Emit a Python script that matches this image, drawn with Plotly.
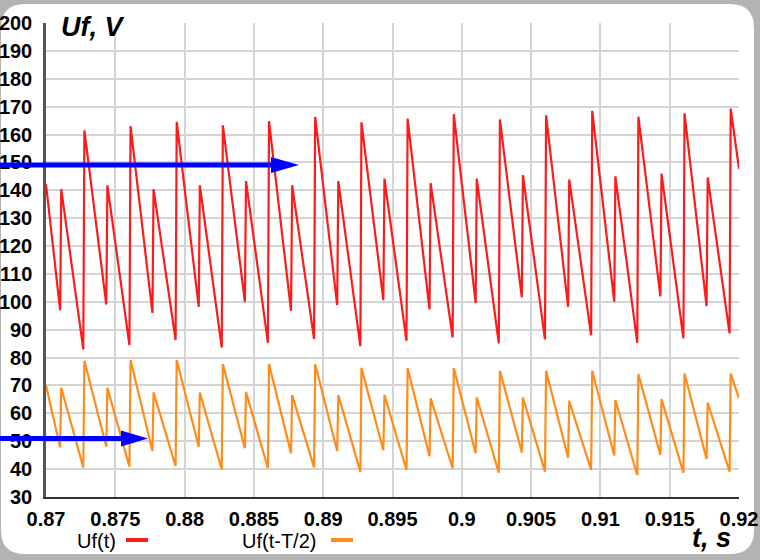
import plotly.graph_objects as go

# ---------------- data ----------------
t_jump = [0.87106, 0.87273, 0.87439, 0.87606, 0.87772, 0.87939, 0.88106, 0.88272,
          0.88439, 0.88605, 0.88772, 0.88938, 0.89105, 0.89272, 0.89438, 0.89605,
          0.89771, 0.89938, 0.90104, 0.90271, 0.90437, 0.90604, 0.90771, 0.90937,
          0.91104, 0.91270, 0.91437, 0.91603, 0.91770, 0.91936]

red_start, red_end = 142.2, 147.7
red_min = [97, 83, 99, 84.5, 96, 86.3, 98.2, 83.6, 100, 85.3,
           96.8, 86.7, 98.8, 84.1, 100.6, 86, 97.3, 87.2, 99.6, 85.1,
           101.6, 86.5, 98.2, 88, 100, 85.3, 102, 86.9, 98.5, 88.7]
red_peak = [140.4, 161.5, 141.8, 163, 140.4, 164.5, 141.8, 163.3, 143.3, 164.8,
            141.8, 166.3, 143.3, 164.4, 144.2, 165.7, 142.6, 167.3, 144.2, 165.4,
            145.4, 166.9, 143.9, 168.5, 145, 166.4, 146, 167.6, 144.6, 169.3]

org_start, org_end = 70.1, 65.4
org_min = [47.8, 40.6, 48, 40.9, 46.5, 41.1, 48, 39.9, 47.5, 40.3,
           45.7, 40.6, 46.5, 39.1, 46.8, 39.7, 44.6, 40.3, 45.7, 38.7,
           46, 39.1, 44.1, 39.7, 44.9, 37.9, 45.1, 38.7, 43.6, 39.1]
org_peak = [69.2, 78.9, 69.2, 79.1, 67.5, 79.1, 67.5, 77.7, 67.7, 77.7,
            66.6, 77.7, 66.6, 76.3, 66.6, 76.3, 65.4, 76.3, 65.7, 75.3,
            65.7, 75.3, 64.5, 75.3, 64.8, 74.1, 65.1, 74.3, 63.9, 74.3]

x_tickvals = [0.87, 0.875, 0.88, 0.885, 0.89, 0.895, 0.9, 0.905, 0.91, 0.915, 0.92]
x_ticktext = ["0.87", "0.875", "0.88", "0.885", "0.89", "0.895", "0.9", "0.905", "0.91", "0.915", "0.92"]
y_tickvals = list(range(30, 201, 10))

series_names = ["Uf(t)", "Uf(t-T/2)"]
series_colors = ["#ff1a1a", "#ff8c1a"]
t_range = [0.87, 0.92]
half_jump = 0.00004


def build(start, mins, peaks, end):
    xs, ys = [t_range[0]], [start]
    for t, lo, hi in zip(t_jump, mins, peaks):
        xs += [t - half_jump, t + half_jump]
        ys += [lo, hi]
    xs.append(t_range[1])
    ys.append(end)
    return xs, ys


# ---------------- layout geometry ----------------
W, H = 760, 560
ML, MR, MT, MB = 46, 21, 23, 63
PW, PH = W - ML - MR, H - MT - MB


def fx(px):
    return (px - ML) / PW


def fy(py):
    return (H - MB - py) / PH


fig = go.Figure()
for (s, mn, pk, e), name, col in zip(
        [(red_start, red_min, red_peak, red_end), (org_start, org_min, org_peak, org_end)],
        series_names, series_colors):
    xs, ys = build(s, mn, pk, e)
    fig.add_trace(go.Scatter(x=xs, y=ys, mode="lines", name=name,
                             line=dict(color=col, width=2.2), showlegend=False))

shapes = []
# rounded white panel
x0, x1, y0, y1, r = 1, 754, 4, 554, 24
pts = [
    f"M{fx(x0 + r)},{fy(y0)}", f"L{fx(x1 - r)},{fy(y0)}",
    f"Q{fx(x1)},{fy(y0)} {fx(x1)},{fy(y0 + r)}", f"L{fx(x1)},{fy(y1 - r)}",
    f"Q{fx(x1)},{fy(y1)} {fx(x1 - r)},{fy(y1)}", f"L{fx(x0 + r)},{fy(y1)}",
    f"Q{fx(x0)},{fy(y1)} {fx(x0)},{fy(y1 - r)}", f"L{fx(x0)},{fy(y0 + r)}",
    f"Q{fx(x0)},{fy(y0)} {fx(x0 + r)},{fy(y0)}", "Z"]
shapes.append(dict(type="path", path=" ".join(pts), xref="paper", yref="paper",
                   fillcolor="white", line=dict(width=0), layer="below"))
# white box behind the y title
shapes.append(dict(type="rect", xref="paper", yref="paper", x0=fx(55), x1=fx(163),
                   y0=fy(31), y1=fy(16), fillcolor="white", line=dict(width=0), layer="above"))
# legend dashes
shapes.append(dict(type="line", xref="paper", yref="paper", x0=fx(126), x1=fx(148),
                   y0=fy(540), y1=fy(540), line=dict(color=series_colors[0], width=4), layer="above"))
shapes.append(dict(type="line", xref="paper", yref="paper", x0=fx(331), x1=fx(353),
                   y0=fy(540), y1=fy(540), line=dict(color=series_colors[1], width=4), layer="above"))
# blue arrows
for (ya, head_start, tip, hh) in [(165, 271, 299, 8), (438.5, 121, 148, 8)]:
    shapes.append(dict(type="line", xref="paper", yref="paper", x0=fx(0), x1=fx(head_start + 2),
                       y0=fy(ya), y1=fy(ya), line=dict(color="#0000ff", width=5), layer="above"))
    shapes.append(dict(type="path", xref="paper", yref="paper",
                       path=f"M{fx(head_start)},{fy(ya - hh)} L{fx(tip)},{fy(ya)} L{fx(head_start)},{fy(ya + hh)} Z",
                       fillcolor="#0000ff", line=dict(width=0), layer="above"))

annotations = [
    dict(text="<b><i>Uf, V</i></b>", xref="paper", yref="paper", x=fx(59), y=fy(27),
         xanchor="left", yanchor="middle", showarrow=False,
         font=dict(family="Liberation Sans, Arial", size=27, color="black")),
    dict(text="<b><i>t, s</i></b>", xref="paper", yref="paper", x=fx(711), y=fy(538),
         xanchor="center", yanchor="middle", showarrow=False,
         font=dict(family="Liberation Sans, Arial", size=27, color="black")),
    dict(text=series_names[0], xref="paper", yref="paper", x=fx(75), y=fy(541),
         xanchor="left", yanchor="middle", showarrow=False,
         font=dict(family="Liberation Sans, Arial", size=20, color="black")),
    dict(text=series_names[1], xref="paper", yref="paper", x=fx(240), y=fy(541),
         xanchor="left", yanchor="middle", showarrow=False,
         font=dict(family="Liberation Sans, Arial", size=20, color="black")),
]

tick_font = dict(family="Liberation Sans, Arial", size=20, color="black", weight="bold")

fig.update_layout(
    template="none",
    width=W, height=H,
    margin=dict(l=ML, r=MR, t=MT, b=MB, pad=0, autoexpand=False),
    paper_bgcolor="#b3b3b3",
    plot_bgcolor="rgba(0,0,0,0)",
    shapes=shapes,
    annotations=annotations,
    showlegend=False,
    xaxis=dict(range=t_range, tickvals=x_tickvals, ticktext=x_ticktext, automargin=False,
               showgrid=True, gridcolor="#d4d4d4", gridwidth=1.5, zeroline=False,
               showline=True, linecolor="#333333", linewidth=2, ticks="",
               tickfont=tick_font, ticklabelstandoff=3),
    yaxis=dict(range=[30, 200], tickvals=y_tickvals, automargin=False,
               showgrid=True, gridcolor="#d4d4d4", gridwidth=1.5, zeroline=False,
               showline=True, linecolor="#555555", linewidth=2.5, ticks="",
               tickfont=tick_font, ticklabelstandoff=7),
)

fig.write_html("out.html")
